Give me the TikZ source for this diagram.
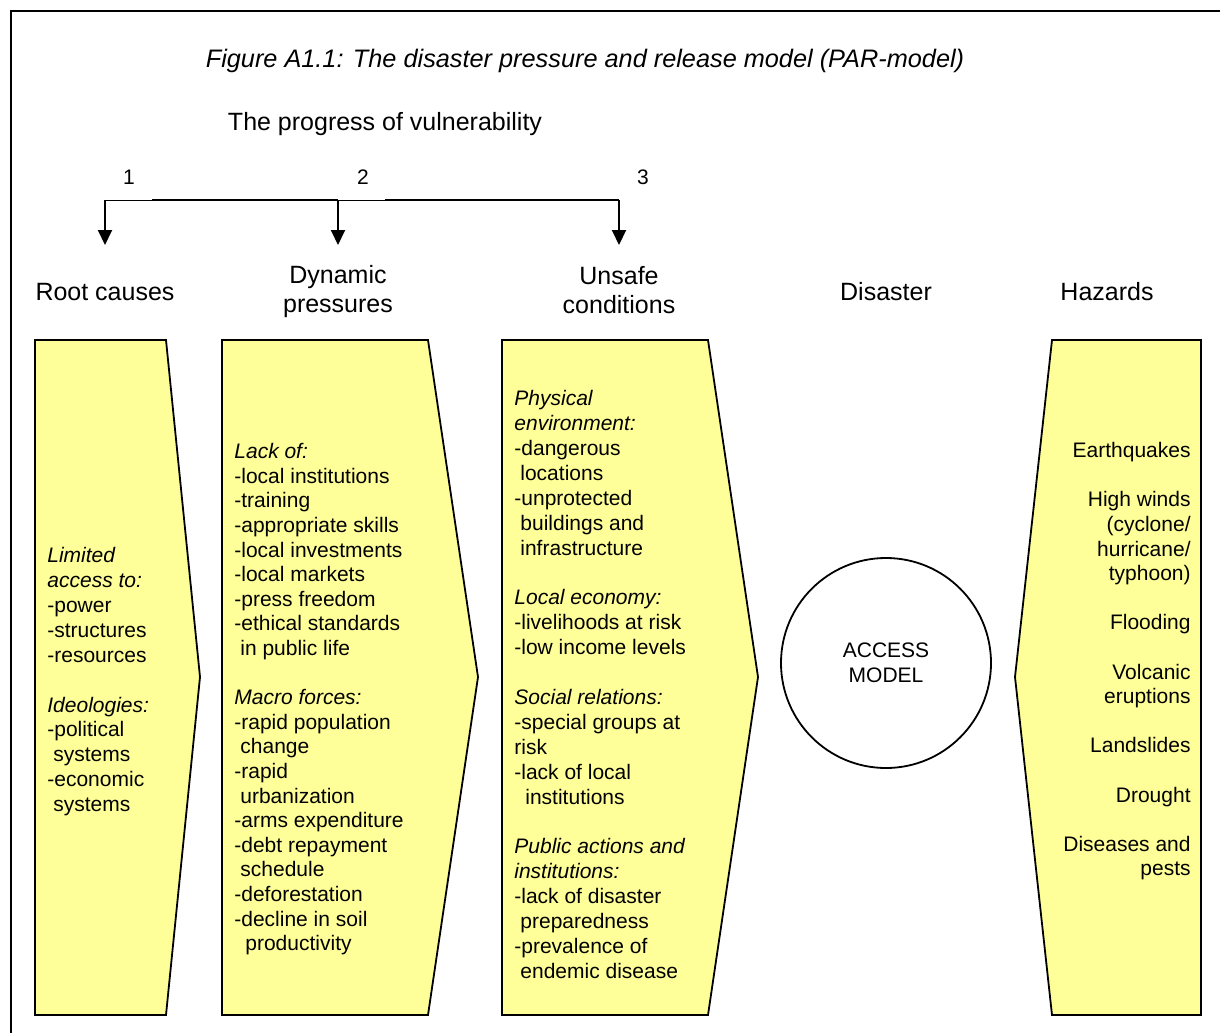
\documentclass[tikz,border=0pt]{standalone}
\usepackage{fontspec}
\setmainfont{Liberation Sans}
\usetikzlibrary{arrows.meta}

\definecolor{paryellow}{RGB}{255,255,153}

\begin{document}
\begin{tikzpicture}[x=0.5pt,y=-0.5pt,>={Triangle[width=7pt,length=7.5pt]},
  head/.style={font=\fontsize{12.5}{14.5}\selectfont,align=center},
  txt/.style={font=\fontsize{10.5}{12.3}\selectfont,align=left,inner sep=0pt,anchor=north west},
  band/.style={draw,line width=0.9pt,fill=paryellow,line join=miter}]

\useasboundingbox (0,0) rectangle (1220,1033);
\draw[line width=0.9pt] (11,1033) -- (11,11) -- (1220,11);

\node[head,font=\fontsize{12.65}{14.5}\selectfont\itshape] (title) at (585,61)
  {Figure A1.1: The disaster pressure and release model (PAR-model)};
\node[head] (progress) at (385,124) {The progress of vulnerability};

% the three steps
\node[font=\fontsize{10.5}{12.3}\selectfont] (n1) at (129,177) {1};
\node[font=\fontsize{10.5}{12.3}\selectfont] (n2) at (363,177) {2};
\node[font=\fontsize{10.5}{12.3}\selectfont] (n3) at (643,177) {3};
\coordinate (b1) at (105,200); \coordinate (e1) at (105,245);
\coordinate (b2) at (338,200); \coordinate (e2) at (338,245);
\coordinate (b3) at (619,200); \coordinate (e3) at (619,245);
\draw[line width=0.5pt] (b1) -- (b3);
\draw[line width=1pt] (152,200) -- (b2) (385,200) -- (b3);
\foreach \i in {1,2,3}
  \draw[->,line width=1pt] (b\i) -- (e\i);

\node[head] (root)    at (105,292) {Root causes};
\node[head] (dynamic) at (338,292) {Dynamic\\pressures};
\node[head] (unsafe)  at (619,290) {Unsafe\\conditions};
\node[head] (disaster) at (886,292) {Disaster};
\node[head] (hazards) at (1107,292) {Hazards};

% pressure bands
\path[band] (35,340) -- (166,340) -- (200,677) -- (166,1015) -- (35,1015) -- cycle;
\path[band] (222,340) -- (428,340) -- (478,677) -- (428,1015) -- (222,1015) -- cycle;
\path[band] (502,340) -- (708,340) -- (758,677) -- (708,1015) -- (502,1015) -- cycle;
\path[band] (1052,340) -- (1201,340) -- (1201,1015) -- (1052,1015) -- (1015,677) -- cycle;

\node[txt,font=\fontsize{10.5}{12.45}\selectfont] (roottext) at (47,547) {\textit{Limited}\\\textit{access to:}\\-power\\-structures\\-resources\\[12.45pt]
  \textit{Ideologies:}\\-political\\\hspace*{3pt}systems\\-economic\\\hspace*{3pt}systems};

\node[txt] (dyntext) at (234,443) {\textit{Lack of:}\\-local institutions\\-training\\-appropriate skills\\-local investments\\-local markets\\-press freedom\\-ethical standards\\\hspace*{3pt}in public life\\[12.3pt]
  \textit{Macro forces:}\\-rapid population\\\hspace*{3pt}change\\-rapid\\\hspace*{3pt}urbanization\\-arms expenditure\\-debt repayment\\\hspace*{3pt}schedule\\-deforestation\\-decline in soil\\\hspace*{5.5pt}productivity};

\node[txt,font=\fontsize{10.5}{12.45}\selectfont] (unsafetext) at (514,390) {\textit{Physical}\\\textit{environment:}\\-dangerous\\\hspace*{3pt}locations\\-unprotected\\\hspace*{3pt}buildings and\\\hspace*{3pt}infrastructure\\[12.45pt]
  \textit{Local economy:}\\-livelihoods at risk\\-low income levels\\[12.45pt]
  \textit{Social relations:}\\-special groups at\\risk\\-lack of local\\\hspace*{5.5pt}institutions\\[12.45pt]
  \textit{Public actions and}\\\textit{institutions:}\\-lack of disaster\\\hspace*{3pt}preparedness\\-prevalence of\\\hspace*{3pt}endemic disease};

\node[txt,align=right,anchor=north east] (hazardtext) at (1191,442) {Earthquakes\\[12.3pt]
  High winds\\(cyclone/\\hurricane/\\typhoon)\\[12.3pt]Flooding\\[12.3pt]Volcanic\\eruptions\\[12.3pt]
  Landslides\\[12.3pt]Drought\\[12.3pt]Diseases and\\pests};

\node[draw,circle,line width=0.9pt,minimum size=105pt,font=\fontsize{10.5}{12.3}\selectfont,align=center] (access) at (886,663) {ACCESS\\MODEL};

\end{tikzpicture}
\end{document}
